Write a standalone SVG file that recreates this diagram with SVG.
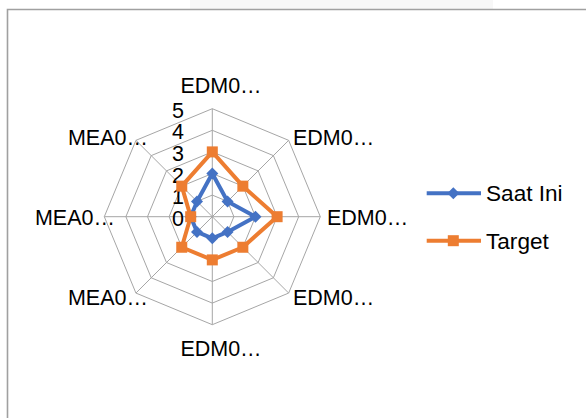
<svg xmlns="http://www.w3.org/2000/svg" width="586" height="418" viewBox="0 0 586 418">
<style>
text{font-family:"Liberation Sans",Arial,sans-serif;font-size:21.5px;fill:#000}
.leg{font-size:22.6px}
.grid{fill:none;stroke:#a6a6a6;stroke-width:1}
.s1{fill:none;stroke:#4472C4;stroke-width:4;stroke-linejoin:round}
.s2{fill:none;stroke:#ED7D31;stroke-width:4;stroke-linejoin:round}
.m1{fill:#4472C4}
.m2{fill:#ED7D31}
</style>
<defs>
<path id="dia" d="M0,-6 L6,0 L0,6 L-6,0 Z"/>
<rect id="sq" x="-5.5" y="-5.5" width="11" height="11"/>
</defs>
<rect x="0" y="0" width="586" height="418" fill="#ffffff"/>
<rect x="190" y="0" width="303" height="9" fill="#f7f7f7"/>
<g id="frame">
<path d="M7.5,418 V9.5 H586" fill="none" stroke="#a0a0a0" stroke-width="1.6"/>
</g>
<g id="grid" transform="translate(212.3,216.7)">
<polygon class="grid" points="0,-21.6 15.27,-15.27 21.6,0 15.27,15.27 0,21.6 -15.27,15.27 -21.6,0 -15.27,-15.27"/>
<polygon class="grid" points="0,-43.2 30.55,-30.55 43.2,0 30.55,30.55 0,43.2 -30.55,30.55 -43.2,0 -30.55,-30.55"/>
<polygon class="grid" points="0,-64.8 45.82,-45.82 64.8,0 45.82,45.82 0,64.8 -45.82,45.82 -64.8,0 -45.82,-45.82"/>
<polygon class="grid" points="0,-86.4 61.09,-61.09 86.4,0 61.09,61.09 0,86.4 -61.09,61.09 -86.4,0 -61.09,-61.09"/>
<polygon class="grid" points="0,-108 76.37,-76.37 108,0 76.37,76.37 0,108 -76.37,76.37 -108,0 -76.37,-76.37"/>
<path class="grid" d="M0,0 L0,-108 M0,0 L76.37,-76.37 M0,0 L108,0 M0,0 L76.37,76.37 M0,0 L0,108 M0,0 L-76.37,76.37 M0,0 L-108,0 M0,0 L-76.37,-76.37"/>
</g>
<g id="value-labels" text-anchor="end">
<text x="184" y="117.7">5</text>
<text x="184" y="139.3">4</text>
<text x="184" y="160.9">3</text>
<text x="184" y="182.5">2</text>
<text x="184" y="204.1">1</text>
<text x="184" y="225.7">0</text>
</g>
<g id="category-labels">
<text x="221" y="93" text-anchor="middle">EDM0…</text>
<text x="293" y="145">EDM0…</text>
<text x="327" y="225">EDM0…</text>
<text x="293" y="305">EDM0…</text>
<text x="221" y="356" text-anchor="middle">EDM0…</text>
<text x="148" y="305" text-anchor="end">MEA0…</text>
<text x="115" y="225" text-anchor="end">MEA0…</text>
<text x="148" y="145" text-anchor="end">MEA0…</text>
</g>
<g id="series-saat-ini" transform="translate(212.3,216.7)">
<polygon class="s1" points="0,-43.2 15.27,-15.27 43.2,0 15.27,15.27 0,21.6 -15.27,15.27 -21.6,0 -15.27,-15.27"/>
<g class="m1">
<use href="#dia" x="0" y="-43.2"/>
<use href="#dia" x="15.27" y="-15.27"/>
<use href="#dia" x="43.2" y="0"/>
<use href="#dia" x="15.27" y="15.27"/>
<use href="#dia" x="0" y="21.6"/>
<use href="#dia" x="-15.27" y="15.27"/>
<use href="#dia" x="-21.6" y="0"/>
<use href="#dia" x="-15.27" y="-15.27"/>
</g>
</g>
<g id="series-target" transform="translate(212.3,216.7)">
<polygon class="s2" points="0,-64.8 30.55,-30.55 64.8,0 30.55,30.55 0,43.2 -30.55,30.55 -21.6,0 -30.55,-30.55"/>
<g class="m2">
<use href="#sq" x="0" y="-64.8"/>
<use href="#sq" x="30.55" y="-30.55"/>
<use href="#sq" x="64.8" y="0"/>
<use href="#sq" x="30.55" y="30.55"/>
<use href="#sq" x="0" y="43.2"/>
<use href="#sq" x="-30.55" y="30.55"/>
<use href="#sq" x="-21.6" y="0"/>
<use href="#sq" x="-30.55" y="-30.55"/>
</g>
</g>
<g id="legend">
<line class="s1" x1="426.7" y1="193.3" x2="481" y2="193.3"/>
<use href="#dia" class="m1" x="453.3" y="193.3"/>
<text class="leg" x="486" y="201">Saat Ini</text>
<line class="s2" x1="426.7" y1="240.7" x2="481" y2="240.7"/>
<use href="#sq" class="m2" x="453.3" y="240.7"/>
<text class="leg" x="486" y="248.5">Target</text>
</g>
</svg>
